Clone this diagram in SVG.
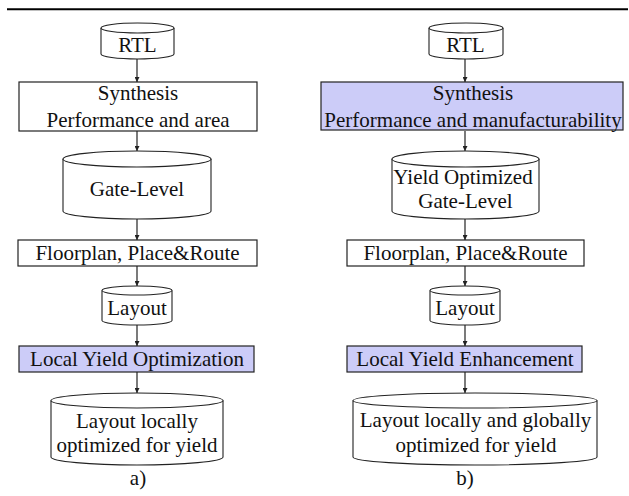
<svg xmlns="http://www.w3.org/2000/svg" width="629" height="496" viewBox="0 0 629 496">
<defs>
<style>
.bg{fill:#ffffff}
.box{fill:#ffffff;stroke:#222222;stroke-width:1.2}
.hl{fill:#ccccf8;stroke:#222222;stroke-width:1.2}
.cyl{fill:#ffffff;stroke:#222222;stroke-width:1.1}
.t{font-family:"Liberation Serif","Times New Roman",serif;font-size:21px;fill:#111111;text-anchor:middle}
.c{fill:none;stroke:#222222;stroke-width:1.2;marker-end:url(#ah)}
</style>
<marker id="ah" viewBox="0 0 8 8" refX="8" refY="4" markerWidth="5" markerHeight="5" markerUnits="userSpaceOnUse" orient="auto">
<path d="M0,0 L8,4 L0,8 z" fill="#222222"/>
</marker>
</defs>
<rect class="bg" x="0" y="0" width="629" height="496"/>
<line x1="7" y1="9.2" x2="628" y2="9.2" stroke="#000000" stroke-width="2"/>

<g id="connectors">
<line class="c" x1="137" y1="59" x2="137" y2="82"/>
<line class="c" x1="137" y1="131" x2="137" y2="151"/>
<line class="c" x1="137" y1="219" x2="137" y2="240"/>
<line class="c" x1="137" y1="266" x2="137" y2="286"/>
<line class="c" x1="137" y1="325" x2="137" y2="346"/>
<line class="c" x1="137" y1="372" x2="137" y2="393"/>
<line class="c" x1="465" y1="59" x2="465" y2="82"/>
<line class="c" x1="465" y1="131" x2="465" y2="151"/>
<line class="c" x1="465" y1="219" x2="465" y2="240"/>
<line class="c" x1="465" y1="266" x2="465" y2="286"/>
<line class="c" x1="465" y1="325" x2="465" y2="346"/>
<line class="c" x1="465" y1="372" x2="465" y2="393"/>
</g>

<g id="a-rtl">
<path class="cyl" d="M101,28 L101,54 A36.5,5 0 0 0 174,54 L174,28"/>
<ellipse class="cyl" cx="137.5" cy="28" rx="36.5" ry="5"/>
<text class="t" x="137.5" y="52">RTL</text>
</g>
<g id="a-synthesis">
<rect class="box" x="19" y="82" width="238" height="49"/>
<text class="t" x="138" y="100">Synthesis</text>
<text class="t" x="138" y="126.5">Performance and area</text>
</g>
<g id="a-gate">
<path class="cyl" d="M63,159 L63,211 A74,8 0 0 0 211,211 L211,159"/>
<ellipse class="cyl" cx="137" cy="159" rx="74" ry="8"/>
<text class="t" x="137" y="196">Gate-Level</text>
</g>
<g id="a-floorplan">
<rect class="box" x="18" y="240" width="239" height="26"/>
<text class="t" x="137.5" y="260">Floorplan, Place&amp;Route</text>
</g>
<g id="a-layout">
<path class="cyl" d="M102,290.5 L102,320.5 A35,4.5 0 0 0 172,320.5 L172,290.5"/>
<ellipse class="cyl" cx="137" cy="290.5" rx="35" ry="4.5"/>
<text class="t" x="137" y="315">Layout</text>
</g>
<g id="a-local">
<rect class="hl" x="19" y="346" width="235" height="26"/>
<text class="t" x="137" y="365.5">Local Yield Optimization</text>
</g>
<g id="a-result">
<path class="cyl" d="M51,400.5 L51,457 A86,8 0 0 0 223,457 L223,400.5"/>
<ellipse class="cyl" cx="137" cy="400.5" rx="86" ry="7.5"/>
<text class="t" x="137" y="428">Layout locally</text>
<text class="t" x="137" y="452">optimized for yield</text>
</g>
<g id="a-label">
<text class="t" x="138" y="485">a)</text>
</g>

<g id="b-rtl">
<path class="cyl" d="M429,28 L429,54 A37,5 0 0 0 503,54 L503,28"/>
<ellipse class="cyl" cx="466" cy="28" rx="37" ry="5"/>
<text class="t" x="465.5" y="52">RTL</text>
</g>
<g id="b-synthesis">
<rect class="hl" x="321" y="82" width="302" height="48"/>
<text class="t" x="473" y="100">Synthesis</text>
<text class="t" x="473" y="126.5">Performance and manufacturability</text>
</g>
<g id="b-gate">
<path class="cyl" d="M392,159 L392,211 A73.5,8 0 0 0 539,211 L539,159"/>
<ellipse class="cyl" cx="465.5" cy="159" rx="73.5" ry="8"/>
<text class="t" x="463" y="184">Yield Optimized</text>
<text class="t" x="465.5" y="208">Gate-Level</text>
</g>
<g id="b-floorplan">
<rect class="box" x="347" y="240" width="237" height="26"/>
<text class="t" x="465.5" y="260">Floorplan, Place&amp;Route</text>
</g>
<g id="b-layout">
<path class="cyl" d="M430,290.5 L430,320.5 A35,4.5 0 0 0 500,320.5 L500,290.5"/>
<ellipse class="cyl" cx="465" cy="290.5" rx="35" ry="4.5"/>
<text class="t" x="465" y="315">Layout</text>
</g>
<g id="b-local">
<rect class="hl" x="347" y="346" width="235" height="26"/>
<text class="t" x="465" y="365.5">Local Yield Enhancement</text>
</g>
<g id="b-result">
<path class="cyl" d="M353,400.5 L353,457 A122,8 0 0 0 597,457 L597,400.5"/>
<ellipse class="cyl" cx="475" cy="400.5" rx="122" ry="7.5"/>
<text class="t" x="475.5" y="427">Layout locally and globally</text>
<text class="t" x="476" y="452">optimized for yield</text>
</g>
<g id="b-label">
<text class="t" x="465" y="485">b)</text>
</g>
</svg>
